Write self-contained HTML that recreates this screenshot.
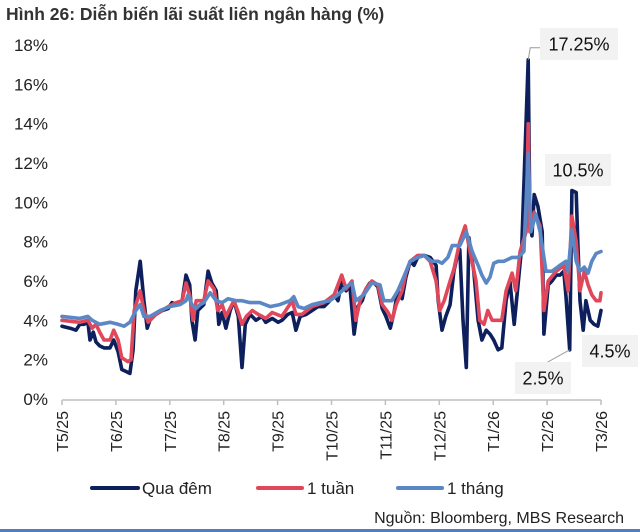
<!DOCTYPE html>
<html><head><meta charset="utf-8"><style>
body{margin:0;background:#fff;}
svg{display:block;font-family:"Liberation Sans","Noto Sans CJK SC",sans-serif;}
</style></head><body>
<svg width="640" height="532" viewBox="0 0 640 532">
<text x="6" y="20" font-size="17.5" font-weight="bold" fill="#333">Hình 26: Diễn biến lãi suất liên ngân hàng (%)</text>
<g id="yaxis"></g>
<g id="xaxis"></g>
<g id="series"></g>
<g id="annot"></g>
<g>
<line x1="92" y1="488" x2="138" y2="488" stroke="#0d1f5c" stroke-width="4" stroke-linecap="round"/>
<text x="142" y="494" font-size="17" fill="#222">Qua đêm</text>
<line x1="258" y1="488" x2="302" y2="488" stroke="#e0475a" stroke-width="4" stroke-linecap="round"/>
<text x="307" y="494" font-size="17" fill="#222">1 tuần</text>
<line x1="398" y1="488" x2="442" y2="488" stroke="#5b87c5" stroke-width="4" stroke-linecap="round"/>
<text x="447" y="494" font-size="17" fill="#222">1 tháng</text>
</g>
<text x="624" y="523" font-size="16" fill="#222" text-anchor="end">Nguồn: Bloomberg, MBS Research</text>
<rect x="0" y="529" width="640" height="3" fill="#4f7fbd"/>
</svg>
<script>
const monthLabels=["T5/25","T6/25","T7/25","T8/25","T9/25","T10/25","T11/25","T12/25","T1/26","T2/26","T3/26"];
const yTicks=[0,2,4,6,8,10,12,14,16,18];
const onMonths=[0,.15,.26,.33,.41,.48,.52,.58,.63,.70,.78,.89,.96,1.04,1.11,1.19,1.26,1.32,1.37,1.45,1.52,1.58,1.63,1.74,1.86,1.97,2.04,2.12,2.23,2.30,2.37,2.41,2.47,2.52,2.63,2.71,2.78,2.86,2.91,2.97,3.04,3.12,3.19,3.27,3.34,3.40,3.49,3.60,3.71,3.78,3.90,4.01,4.08,4.19,4.27,4.34,4.42,4.53,4.64,4.75,4.86,4.97,5.05,5.12,5.19,5.27,5.34,5.42,5.49,5.57,5.64,5.71,5.79,5.86,5.94,6.01,6.09,6.16,6.23,6.31,6.38,6.46,6.53,6.60,6.72,6.83,6.94,6.98,7.05,7.12,7.20,7.27,7.35,7.38,7.44,7.50,7.55,7.64,7.72,7.79,7.87,7.94,8.01,8.09,8.16,8.24,8.31,8.39,8.46,8.53,8.65,8.68,8.72,8.76,8.83,8.91,8.94,9.02,9.09,9.17,9.24,9.31,9.35,9.42,9.46,9.54,9.57,9.61,9.67,9.72,9.80,9.87,9.94,10.0];
const onValues=[3.7,3.6,3.5,3.8,3.8,3.9,3.0,3.4,2.9,2.7,2.6,2.6,3.0,2.4,1.5,1.4,1.3,2.5,5.5,7.0,5.0,3.6,4.0,4.3,4.5,4.6,4.9,4.8,5.0,6.3,5.8,4.0,3.0,4.5,4.8,6.5,5.9,5.5,3.8,4.4,3.6,4.5,5.0,4.2,1.6,3.8,4.3,4.0,4.2,3.9,4.1,3.9,4.0,4.3,4.4,3.5,4.2,4.3,4.5,4.7,4.7,5.0,5.3,5.0,6.0,5.5,5.8,3.3,4.7,5.0,5.6,5.9,5.9,5.7,4.6,4.2,3.6,4.4,5.5,5.1,6.2,7.0,6.8,7.2,7.3,7.2,6.8,5.0,3.5,4.2,4.8,6.5,7.5,7.6,4.0,1.6,8.2,6.5,4.0,3.0,3.5,3.3,3.0,2.5,2.6,5.0,6.0,3.8,5.8,7.8,17.25,9.0,8.3,10.4,9.8,8.5,3.3,5.8,6.0,6.3,6.3,6.5,5.2,2.5,10.6,10.5,8.0,5.0,3.5,5.0,4.0,3.8,3.7,4.5];
const wkMonths=[0,.33,.48,.56,.63,.70,.78,.89,.96,1.04,1.11,1.22,1.28,1.34,1.45,1.52,1.60,1.74,1.97,2.12,2.23,2.30,2.37,2.43,2.49,2.63,2.71,2.82,2.89,2.97,3.04,3.19,3.27,3.34,3.42,3.53,3.64,3.78,3.90,4.08,4.27,4.34,4.45,4.64,4.86,5.05,5.19,5.27,5.38,5.45,5.53,5.64,5.75,5.86,5.94,6.05,6.12,6.20,6.31,6.38,6.46,6.60,6.72,6.83,6.94,7.01,7.09,7.20,7.27,7.38,7.48,7.57,7.68,7.75,7.83,7.90,7.98,8.05,8.16,8.24,8.35,8.42,8.50,8.61,8.65,8.68,8.76,8.87,8.94,9.02,9.17,9.31,9.39,9.46,9.54,9.61,9.69,9.76,9.83,9.91,9.98,10.0];
const wkValues=[4.0,3.9,4.0,3.6,3.8,3.4,3.0,3.0,3.5,3.0,2.1,1.9,2.0,4.5,5.5,4.5,3.9,4.3,4.7,4.9,5.0,5.9,5.3,4.0,5.0,5.0,6.0,5.6,4.5,4.8,4.2,5.0,4.4,3.8,4.2,4.5,4.3,4.1,4.4,4.2,5.0,4.3,4.3,4.7,4.9,5.3,6.3,5.6,6.0,4.0,5.0,5.6,6.0,5.8,4.8,4.4,4.0,4.8,5.5,6.4,7.0,7.3,7.3,7.0,6.0,4.5,5.0,6.0,6.6,8.0,8.8,7.5,6.0,4.0,3.8,4.5,4.0,4.0,4.0,5.5,6.4,5.5,7.5,8.5,14.0,8.5,9.5,8.8,4.5,6.0,6.5,6.8,5.5,9.3,8.0,5.5,6.5,5.8,5.3,5.0,5.0,5.4];
const moMonths=[0,.33,.48,.56,.70,.89,1.04,1.15,1.26,1.37,1.45,1.52,1.63,1.82,2.00,2.19,2.30,2.34,2.41,2.49,2.56,2.63,2.75,2.86,2.97,3.08,3.23,3.34,3.49,3.67,3.86,4.04,4.23,4.30,4.38,4.49,4.64,4.79,4.97,5.12,5.27,5.38,5.45,5.60,5.75,5.90,5.97,6.12,6.23,6.34,6.46,6.60,6.72,6.86,6.98,7.05,7.16,7.24,7.38,7.50,7.61,7.72,7.79,7.87,7.94,8.01,8.09,8.20,8.35,8.46,8.57,8.65,8.70,8.79,8.87,8.98,9.09,9.24,9.35,9.39,9.46,9.54,9.61,9.69,9.76,9.83,9.91,10.0];
const moValues=[4.2,4.1,4.2,4.0,3.8,3.9,3.8,3.7,3.9,4.5,4.8,4.2,4.2,4.5,4.7,4.8,5.0,5.3,4.8,4.6,4.8,4.9,5.4,5.0,4.9,5.1,5.0,5.0,4.9,4.9,4.7,4.8,5.0,5.2,4.7,4.6,4.8,4.9,5.0,5.3,5.7,5.9,5.0,5.3,5.9,5.8,5.0,5.0,5.5,6.2,7.0,7.2,7.3,7.0,7.0,6.9,7.2,7.8,7.8,8.5,7.5,6.8,6.3,5.9,6.2,6.9,7.0,7.0,7.2,7.2,7.5,12.5,8.5,9.4,8.5,6.5,6.5,6.8,7.0,6.5,8.6,7.0,6.5,6.7,6.4,7.0,7.4,7.5];
const X0=62,X1=601,Y0=399,Y18=45;
const xs=m=>X0+(X1-X0)*m/10;
const ys=v=>Y0-(Y0-Y18)*v/18;
const NS="http://www.w3.org/2000/svg";
function mk(tag,attrs,parent){const e=document.createElementNS(NS,tag);for(const k in attrs)e.setAttribute(k,attrs[k]);parent.appendChild(e);return e;}
const ya=document.getElementById('yaxis');
yTicks.forEach(v=>{const t=mk('text',{x:48,y:ys(v)+6,'font-size':17,fill:'#222','text-anchor':'end'},ya);t.textContent=v+'%';

});
const xa=document.getElementById('xaxis');
const ax=mk('line',{x1:X0,y1:Y0+1,x2:X1,y2:Y0+1,stroke:'#bfbfbf','stroke-width':1.5},xa);


monthLabels.forEach((l,i)=>{const x=xs(i);
const tk=mk('line',{x1:x,y1:Y0+1,x2:x,y2:Y0+6,stroke:'#bfbfbf','stroke-width':1.5},xa);


const t=mk('text',{x:0,y:0,'font-size':16,fill:'#222','text-anchor':'end',transform:`translate(${x+6},${Y0+12}) rotate(-90)`},xa);t.textContent=l;

});
const sg=document.getElementById('series');
function line(ms,vs,color,name){const d=ms.map((m,i)=>(i?'L':'M')+xs(m).toFixed(1)+','+ys(vs[i]).toFixed(1)).join('');
const p=mk('path',{d:d,fill:'none',stroke:color,'stroke-width':3.6,'stroke-linejoin':'round','stroke-linecap':'round'},sg);

}
line(onMonths,onValues,'#0d1f5c','line-overnight');
line(wkMonths,wkValues,'#e0475a','line-1-week');
line(moMonths,moValues,'#5b87c5','line-1-month');
const an=document.getElementById('annot');
function box(x,y,w,h,txt,name){const g=mk('g',{},an);


mk('rect',{x:x,y:y,width:w,height:h,fill:'#f2f2f2'},g);
const t=mk('text',{x:x+w/2,y:y+h/2+6.5,'font-size':18,fill:'#111','text-anchor':'middle'},g);t.textContent=txt;}
const pk=onValues.indexOf(Math.max(...onValues));
const px=xs(onMonths[pk]),py=ys(onValues[pk]);
mk('polyline',{points:`${px},${py} ${px+2},${py-12} ${px+12},${py-12}`,fill:'none',stroke:'#999','stroke-width':1},an);
box(540,28,78,32,'17.25%','annotation-peak-17-25');
box(545,154,66,32,'10.5%','annotation-10-5');
box(582,335,56,32,'4.5%','annotation-4-5');
const lo=onValues.lastIndexOf(2.5);
mk('line',{x1:xs(onMonths[lo]),y1:ys(2.5),x2:546,y2:363,stroke:'#999','stroke-width':1},an);
box(515,362,56,32,'2.5%','annotation-2-5');
</script>
</body></html>
